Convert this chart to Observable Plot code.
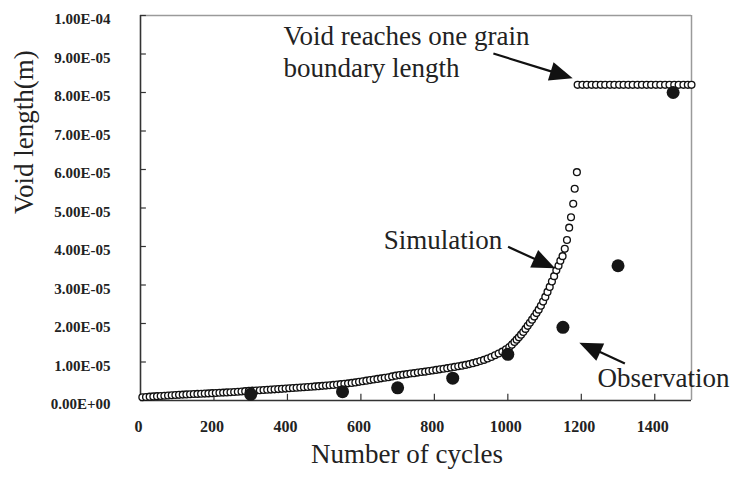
<!DOCTYPE html>
<html><head><meta charset="utf-8">
<script src="https://cdn.jsdelivr.net/npm/d3@7"></script>
<script src="https://cdn.jsdelivr.net/npm/@observablehq/plot@0.6"></script>
<style>html,body{margin:0;padding:0;background:#fff}</style>
</head><body><div id="chart"></div>
<script>
// ---- Data ----
// Simulation: cycles and void length (micrometres)
const simCycles = [
  5,15,25,35,45,55,65,75,85,95,
  105,115,125,135,145,155,165,175,185,195,
  205,215,225,235,245,255,265,275,285,295,
  305,315,325,335,345,355,365,375,385,395,
  405,415,425,435,445,455,465,475,485,495,
  505,515,525,535,545,555,565,575,585,595,
  605,615,625,635,645,655,665,675,685,695,
  705,715,725,735,745,755,765,775,785,795,
  805,815,825,835,845,855,865,875,885,895,
  905,915,925,935,945,955,965,975,985,995,
  1004,1011,1018,1024,1030,1036,1042,1048,1054,1060,
  1066,1072,1078,1084,1090,1096,1102,1108,1114,1120,
  1126,1132,1138,1143,1149,1155,1161,1167,1172,1178,1182,1188,
  1190,1203,1215,1228,1240,1253,1265,1278,1290,1303,1315,1328,1340,
  1353,1365,1378,1390,1403,1415,1428,1440,1453,1465,1478,1490,1500
];
const simLengthUm = [
  0.85,0.92,1.00,1.06,1.12,1.18,1.24,1.30,1.36,1.42,
  1.48,1.53,1.58,1.63,1.68,1.72,1.76,1.80,1.85,1.90,
  1.95,2.00,2.05,2.10,2.15,2.20,2.27,2.35,2.42,2.50,
  2.55,2.60,2.66,2.72,2.78,2.84,2.90,2.97,3.03,3.10,
  3.17,3.24,3.30,3.37,3.44,3.50,3.58,3.65,3.72,3.80,
  3.88,3.96,4.05,4.15,4.25,4.35,4.45,4.57,4.70,4.85,
  5.00,5.15,5.30,5.45,5.60,5.75,5.90,6.05,6.25,6.45,
  6.60,6.72,6.85,7.00,7.10,7.25,7.40,7.50,7.65,7.80,
  7.95,8.10,8.25,8.40,8.55,8.72,8.90,9.05,9.25,9.45,
  9.70,9.95,10.25,10.55,10.9,11.3,11.75,12.2,12.7,13.3,
  13.9,14.5,15.2,15.8,16.4,17.1,17.8,18.6,19.4,20.2,
  21.0,21.8,22.7,23.6,24.6,25.7,26.9,28.2,29.5,30.9,
  32.3,33.8,35.0,36.3,37.5,39.4,41.7,44.9,47.6,51.1,55.0,59.3,
  82,82,82,82,82,82,82,82,82,82,82,82,82,
  82,82,82,82,82,82,82,82,82,82,82,82,82
];
// Observation
const obsCycles = [300, 550, 700, 850, 1000, 1150, 1300, 1450];
const obsLengthUm = [1.6, 2.3, 3.3, 5.8, 12.0, 19.0, 35.0, 80.0];

// Axes
const xTicks = [0, 200, 400, 600, 800, 1000, 1200, 1400];
const xTickLabels = ["0", "200", "400", "600", "800", "1000", "1200", "1400"];
const yTicks = [0, 1e-5, 2e-5, 3e-5, 4e-5, 5e-5, 6e-5, 7e-5, 8e-5, 9e-5, 1e-4];
const yTickLabels = ["0.00E+00", "1.00E-05", "2.00E-05", "3.00E-05", "4.00E-05", "5.00E-05",
  "6.00E-05", "7.00E-05", "8.00E-05", "9.00E-05", "1.00E-04"];
const xTitle = "Number of cycles";
const yTitle = "Void length(m)";

// Annotations (data coordinates)
const noteTexts = ["Void reaches one grain", "boundary length", "Simulation", "Observation"];
const noteCycles = [389, 389, 662, 1244];
const noteLengths = [9.45e-5, 8.62e-5, 4.16e-5, 0.57e-5];
const arrowFromCycles = [962, 1002, 1320];
const arrowFromLengths = [9.0e-5, 3.98e-5, 0.95e-5];
const arrowToCycles = [1178, 1130, 1196];
const arrowToLengths = [8.36e-5, 3.42e-5, 1.49e-5];

// ---- Build tables ----
const sim = simCycles.map((c, i) => ({cycles: c, length: simLengthUm[i] * 1e-6}));
const obs = obsCycles.map((c, i) => ({cycles: c, length: obsLengthUm[i] * 1e-6}));
const notes = noteTexts.map((t, i) => ({text: t, cycles: noteCycles[i], length: noteLengths[i]}));
const arrows = arrowFromCycles.map((c, i) => ({x1: c, y1: arrowFromLengths[i], x2: arrowToCycles[i], y2: arrowToLengths[i]}));

const serif = "'Liberation Serif', 'Times New Roman', Times, serif";
const ink = "#222";

const chart = Plot.plot({
  width: 747,
  height: 477,
  marginLeft: 140,
  marginRight: 56,
  marginTop: 15,
  marginBottom: 77,
  style: {fontFamily: serif, background: "#fff", color: ink},
  x: {domain: [0, 1500]},
  y: {domain: [0, 1e-4]},
  marks: [
    Plot.ruleY([1e-4], {stroke: "#9a9a9a", strokeWidth: 1.5}),
    Plot.ruleX([1500], {stroke: "#9a9a9a", strokeWidth: 1.5}),
    Plot.ruleX(xTicks.slice(1), {y1: 0, y2: 1.6e-6, stroke: "#333", strokeWidth: 1.2}),
    Plot.ruleY(yTicks.slice(1), {x1: 0, x2: 16, stroke: "#333", strokeWidth: 1.2}),
    Plot.ruleX([0], {stroke: "#333", strokeWidth: 1.6}),
    Plot.ruleY([0], {stroke: "#333", strokeWidth: 1.6}),
    Plot.axisX(xTicks, {tickSize: 0, tickPadding: 20, fontSize: 16, fontWeight: "bold", dx: -2,
      tickFormat: d => xTickLabels[xTicks.indexOf(d)], label: null}),
    Plot.axisY(yTicks, {tickSize: 0, tickPadding: 30, fontSize: 15, fontWeight: "bold", dy: 4,
      tickFormat: d => yTickLabels[yTicks.indexOf(d)], label: null}),
    Plot.text([xTitle], {text: d => d, frameAnchor: "bottom", dx: -9, dy: 62, fontSize: 27, fill: ink}),
    Plot.text([yTitle], {text: d => d, frameAnchor: "left", dx: -116, dy: 6, rotate: -90, fontSize: 27, fill: ink}),
    Plot.dot(sim, {x: "cycles", y: "length", r: 3.4, fill: "#fff", stroke: "#111", strokeWidth: 1.35}),
    Plot.dot(obs, {x: "cycles", y: "length", r: 6.5, fill: "#161616"}),
    Plot.text(notes, {x: "cycles", y: "length", text: "text", textAnchor: "start", fontSize: 27, fill: ink})
  ]
});

// Filled-head arrows placed with the chart's own scales
const sx = chart.scale("x"), sy = chart.scale("y");
const g = d3.select(chart).append("g").attr("fill", "#111").attr("stroke", "#111");
const headLen = 23, headHalf = 9.5;
arrows.forEach(a => {
  const x1 = sx.apply(a.x1), y1 = sy.apply(a.y1), x2 = sx.apply(a.x2), y2 = sy.apply(a.y2);
  const L = Math.hypot(x2 - x1, y2 - y1), ux = (x2 - x1) / L, uy = (y2 - y1) / L;
  const bx = x2 - ux * headLen, by = y2 - uy * headLen;
  g.append("line").attr("x1", x1).attr("y1", y1).attr("x2", bx + ux * 2).attr("y2", by + uy * 2)
    .attr("stroke-width", 2.2);
  g.append("polygon").attr("stroke", "none").attr("points",
    `${x2},${y2} ${bx - uy * headHalf},${by + ux * headHalf} ${bx + uy * headHalf},${by - ux * headHalf}`);
});

document.getElementById("chart").appendChild(chart);
</script>
</body></html>
